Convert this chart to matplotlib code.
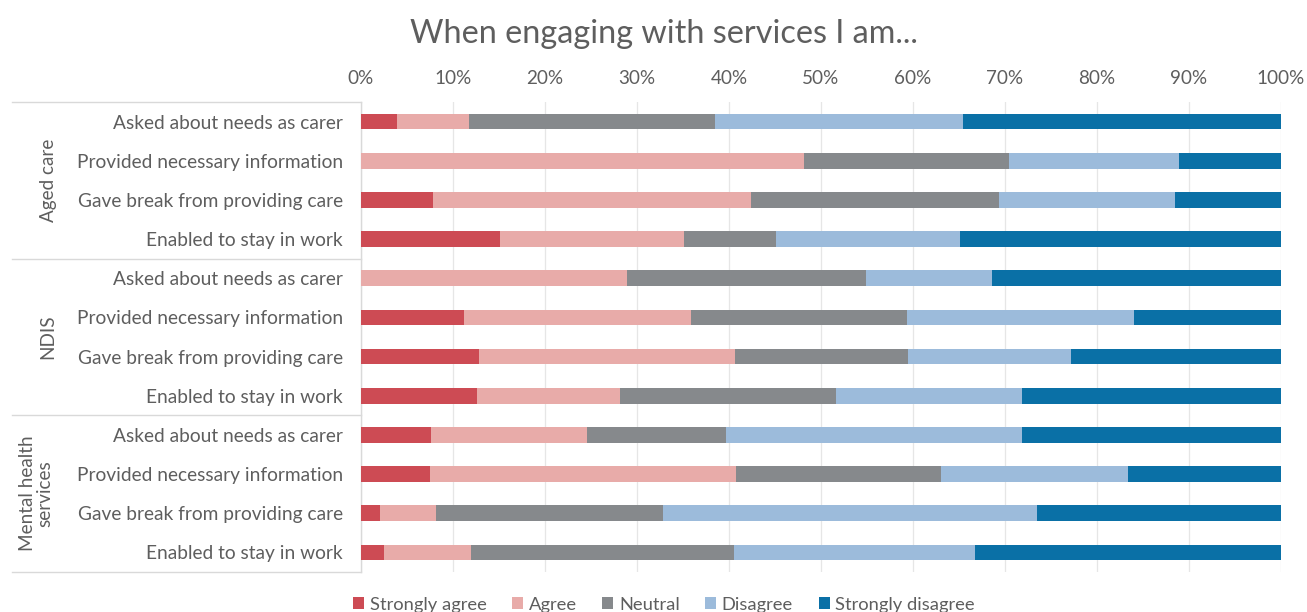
import matplotlib
matplotlib.use("Agg")
import matplotlib.pyplot as plt
from matplotlib.patches import Patch
from matplotlib.lines import Line2D
import matplotlib.transforms as mtransforms

# Survey statements (top to bottom) and service groups
statements = [
    "Asked about needs as carer",
    "Provided necessary information",
    "Gave break from providing care",
    "Enabled to stay in work",
]
groups = ["Aged care", "NDIS", "Mental health\nservices"]

responses = ["Strongly agree", "Agree", "Neutral", "Disagree", "Strongly disagree"]
colors = ["#CD4B54", "#E8ABA9", "#86898C", "#9CBBDB", "#0A70A6"]

# Percent of carers giving each response, per row (group order, statement order)
strongly_agree = [3.9, 0.0, 7.8, 15.1, 0.0, 11.2, 12.8, 12.6, 7.6, 7.5, 2.1, 2.5]
agree = [7.8, 48.2, 34.6, 20.0, 28.9, 24.7, 27.8, 15.6, 17.0, 33.3, 6.1, 9.5]
neutral = [26.8, 22.2, 26.9, 10.0, 26.0, 23.4, 18.9, 23.4, 15.1, 22.2, 24.6, 28.5]
disagree = [26.9, 18.5, 19.2, 20.0, 13.7, 24.7, 17.7, 20.3, 32.1, 20.4, 40.7, 26.2]
strongly_disagree = [34.6, 11.1, 11.5, 34.9, 31.4, 16.0, 22.8, 28.1, 28.2, 16.6, 26.5, 33.3]

series = [strongly_agree, agree, neutral, disagree, strongly_disagree]
row_labels = statements * len(groups)
xticks = list(range(0, 101, 10))

text_color = "#5E5E5E"
line_color = "#D9D9D9"
font = ["Lato", "DejaVu Sans"]
plt.rcParams["font.family"] = font
label_size = 13.8

fig = plt.figure(figsize=(13.07, 6.12), dpi=100)
ax = fig.add_axes([0.2762, 0.0654, 0.7039, 0.7679])

n = len(row_labels)
ypos = list(range(n))
left = [0.0] * n
for vals, col, name in zip(series, colors, responses):
    ax.barh(ypos, vals, left=left, height=0.4, color=col, label=name, zorder=3)
    left = [l + v for l, v in zip(left, vals)]

ax.set_xlim(0, 100)
ax.set_ylim(n - 0.5, -0.5)
ax.xaxis.tick_top()
ax.set_xticks(xticks)
ax.set_xticklabels([f"{t}%" for t in xticks], color=text_color, fontsize=13.6)
ax.set_yticks(ypos)
ax.set_yticklabels(row_labels, color=text_color, fontsize=label_size)
ax.tick_params(axis="both", length=0)
ax.tick_params(axis="x", pad=11)
ax.tick_params(axis="y", pad=13)
ax.grid(axis="x", color="#E6E6E6", linewidth=0.9, zorder=0)
for side in ["top", "right", "bottom"]:
    ax.spines[side].set_visible(False)
ax.spines["left"].set_color(line_color)
ax.spines["left"].set_linewidth(1.0)

# Group separators and rotated group labels
trans = mtransforms.blended_transform_factory(ax.transAxes, ax.transData)
x_left = -0.379
for b in [-0.5, 3.5, 7.5, 11.5]:
    ax.add_line(Line2D([x_left, 0], [b, b], transform=trans, color=line_color,
                       linewidth=1.0, clip_on=False))
group_x = [-0.340, -0.340, -0.353]
for i, (g, gx) in enumerate(zip(groups, group_x)):
    ax.text(gx, 4 * i + 1.5, g, transform=trans, rotation=90, ha="center",
            va="center", color=text_color, fontsize=13.6, linespacing=1.05)

fig.text(0.508, 0.945, "When engaging with services I am...", ha="center",
         va="center", color=text_color, fontsize=23.3)

handles = [Patch(facecolor=c, edgecolor="none", label=r) for c, r in zip(colors, responses)]
fig.legend(handles=handles, loc="center", bbox_to_anchor=(0.508, 0.012), ncol=5,
           frameon=False, handlelength=0.6, handleheight=0.6,
           handletextpad=0.3, columnspacing=1.4, labelcolor=text_color,
           prop={"size": 13.2})

fig.savefig("out.png", dpi=100, facecolor="white")
